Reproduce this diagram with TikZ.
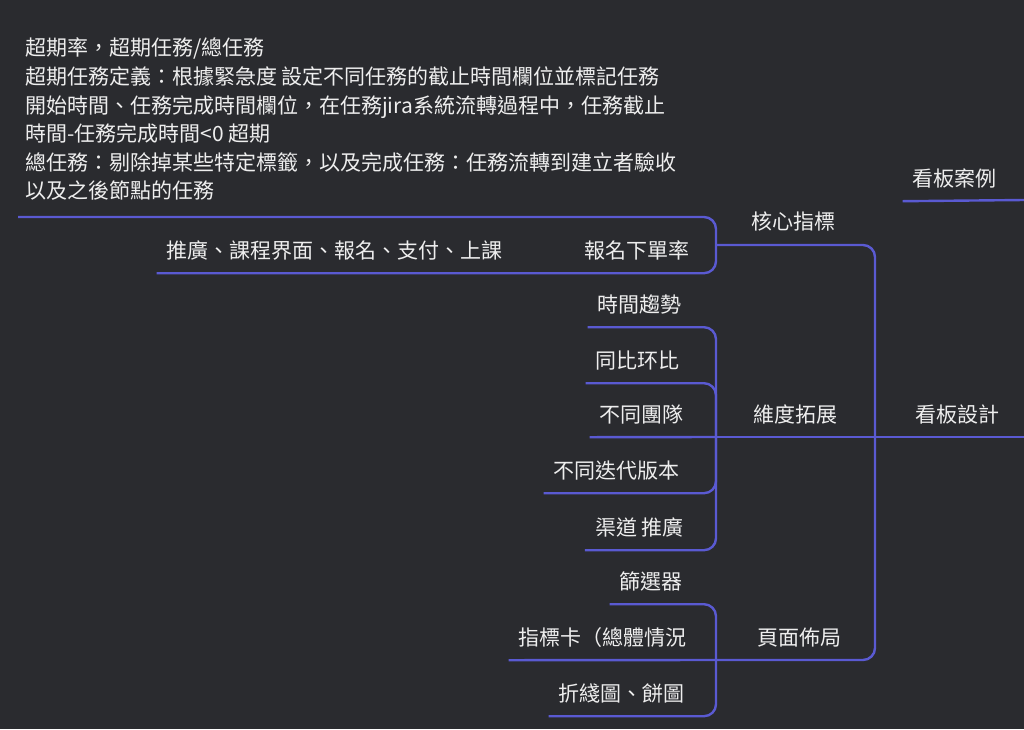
\documentclass[tikz,border=0pt]{standalone}
\usepackage{fontspec}
\setmainfont{Noto Sans CJK TC}
\usepackage{xcolor}
\usepackage{tikz}
\definecolor{boardbg}{HTML}{2A2B2F}
\definecolor{branch}{HTML}{5A5AD2}
\definecolor{ink}{HTML}{EEEEEE}

\begin{document}
\begin{tikzpicture}[
    x=1pt,y=-1pt,
    topic/.style={anchor=base east,inner xsep=10pt,inner ysep=0pt,text depth=15pt,text=ink,font=\fontsize{21}{28}\selectfont},
    note/.style={anchor=north west,inner sep=0pt,align=left,text=ink,font=\fontsize{21}{28.6}\selectfont},
    link/.style={draw=branch,line width=2.4pt,rounded corners=12pt}
]
\fill[boardbg] (0,0) rectangle (1024,729);
\useasboundingbox (0,0) rectangle (1024,729);

%%% junctions of the logic chart
\coordinate (jMain) at (875,437);
\coordinate (jCore) at (716,245);
\coordinate (jDim)  at (716,437);
\coordinate (jLay)  at (716,660);
\coordinate (edgeD) at (1024,437);
\coordinate (edgeC) at (1024,200);
\coordinate (paraL) at (18,217);

%%% level 1 (root is off to the right)
\node[topic] (kCase)   at (1007,186) {看板案例};
\node[topic] (kDesign) at (1010,422) {看板設計};

%%% level 2
\node[topic] (core) at (846,229) {核心指標};
\node[topic] (dim)  at (848,422) {維度拓展};
\node[topic] (lay)  at (852,645) {頁面佈局};

%%% core metrics
\node[note]  (para) at (25,38) {超期率，超期任務/總任務\\
超期任務定義：根據緊急度 設定不同任務的截止時間欄位並標記任務\\
開始時間、任務完成時間欄位，在任務jira系統流轉過程中，任務截止\\
時間-任務完成時間<0 超期\\
總任務：剔除掉某些特定標籤，以及完成任務：任務流轉到建立者驗收\\
以及之後節點的任務};
\node[topic] (rate)   at (700,258) {報名下單率};
\node[topic] (funnel) at (513,258) {推廣、課程界面、報名、支付、上課};

%%% dimensions
\node[topic] (trend) at (692,312) {時間趨勢};
\node[topic] (yoy)   at (690,368) {同比环比};
\node[topic] (team)  at (694,422) {不同團隊};
\node[topic] (ver)   at (690,478) {不同迭代版本};
\node[topic] (chan)  at (694,535) {渠道 推廣};

%%% layout
\node[topic] (filt)  at (693,589) {篩選器};
\node[topic] (card)  at (697,645) {指標卡（總體情況};
\node[topic] (chart) at (695,701) {折綫圖、餅圖};

% trunk
\draw[link] (kCase.south west) -- (edgeC);
\draw[link] (jMain) -- (edgeD);
\draw[link] (jCore) -| (jMain);
\draw[link] (jDim) -- (jMain);
\draw[link] (jLay) -| (jMain);
% core metrics branch
\draw[link] (paraL) -| (jCore);
\draw[link] (funnel.south west) -| (jCore);
% dimensions branch
\draw[link] (trend.south west) -| (jDim);
\draw[link] (yoy.south west) -| (jDim);
\draw[link] (team.south west) -- (jDim);
\draw[link] (ver.south west) -| (jDim);
\draw[link] (chan.south west) -| (jDim);
% layout branch
\draw[link] (filt.south west) -| (jLay);
\draw[link] (card.south west) -- (jLay);
\draw[link] (chart.south west) -| (jLay);
\end{tikzpicture}
\end{document}
